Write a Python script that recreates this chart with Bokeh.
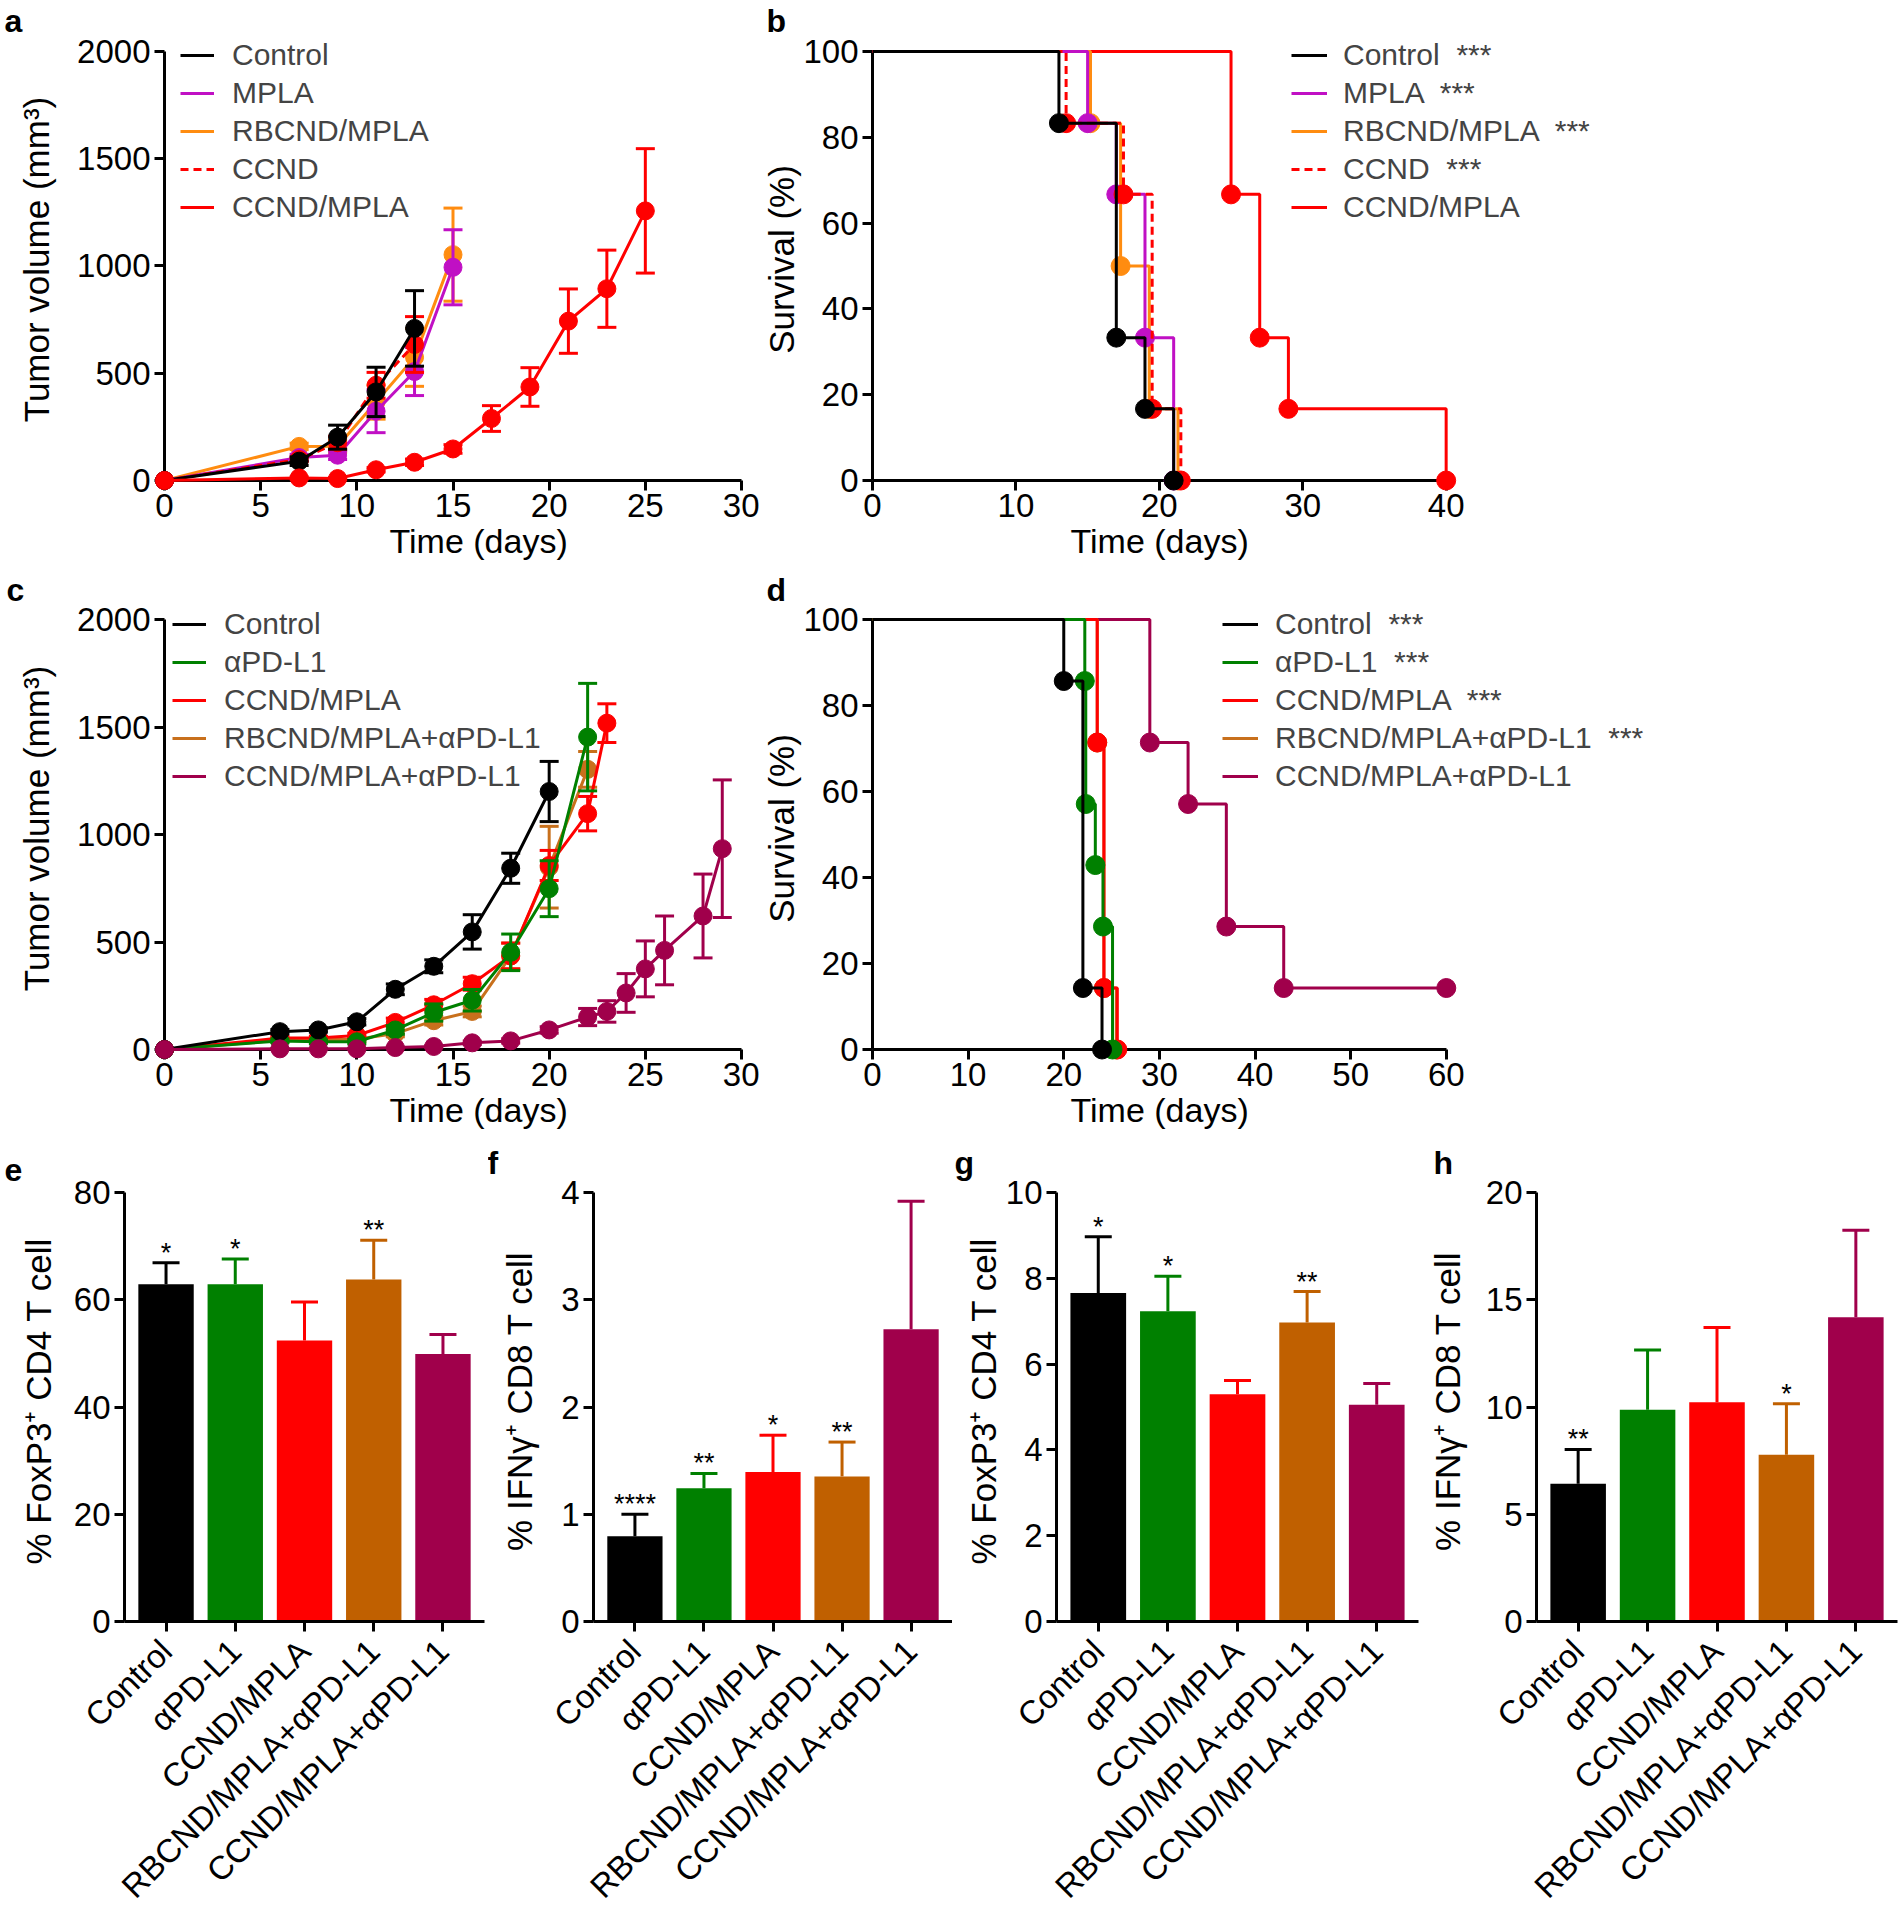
import math
from bokeh.plotting import figure
from bokeh.models import Range1d, ColumnDataSource, Legend, LegendItem, Title
from bokeh.layouts import row, column
from bokeh.embed import file_html
from bokeh.resources import INLINE
from bokeh.core.properties import value

FONT = "Liberation Sans"

# ---------------- data: panel a (tumor volume, mm3) ----------------
a_days_control = [0, 7, 9, 11, 13]
a_control = [0, 90, 202, 413, 709]
a_control_err = [0, 20, 56, 115, 176]
a_days_mpla = [0, 7, 9, 11, 13, 15]
a_mpla = [0, 107, 118, 323, 508, 994]
a_mpla_err = [0, 15, 20, 100, 112, 175]
a_days_rbcnd = [0, 7, 9, 11, 13, 15]
a_rbcnd = [0, 159, 160, 366, 574, 1053]
a_rbcnd_err = [0, 15, 30, 80, 135, 217]
a_days_ccnd = [0, 7, 9, 11, 13]
a_ccnd = [0, 98, 176, 444, 634]
a_ccnd_err = [0, 10, 30, 60, 130]
a_days_ccnd_mpla = [0, 7, 9, 11, 13, 15, 17, 19, 21, 23, 25]
a_ccnd_mpla = [0, 12, 9, 50, 85, 147, 289, 436, 743, 894, 1257]
a_ccnd_mpla_err = [0, 5, 5, 10, 15, 20, 60, 90, 150, 180, 290]

# ---------------- data: panel b (survival %) ----------------
b_control_t = [0, 13, 17, 19, 21]
b_control_s = [100, 83.3, 33.3, 16.7, 0]
b_mpla_t = [0, 15, 17, 19, 21]
b_mpla_s = [100, 83.3, 66.7, 33.3, 0]
b_rbcnd_t = [0, 15.2, 17.3, 19.3, 21.3]
b_rbcnd_s = [100, 83.3, 50, 16.7, 0]
b_ccnd_t = [0, 13.5, 17.5, 19.5, 21.5]
b_ccnd_s = [100, 83.3, 66.7, 16.7, 0]
b_ccnd_mpla_t = [0, 25, 27, 29, 40]
b_ccnd_mpla_s = [100, 66.7, 33.3, 16.7, 0]

# ---------------- data: panel c (tumor volume, mm3) ----------------
c_days_control = [0, 6, 8, 10, 12, 14, 16, 18, 20]
c_control = [0, 83, 91, 129, 280, 387, 547, 843, 1200]
c_control_err = [0, 10, 10, 15, 25, 30, 80, 70, 140]
c_days_apdl1 = [0, 6, 8, 10, 12, 14, 16, 18, 20, 22]
c_apdl1 = [0, 40, 36, 36, 91, 172, 229, 452, 748, 1453]
c_apdl1_err = [0, 8, 8, 10, 20, 40, 50, 85, 130, 250]
c_days_ccnd_mpla = [0, 6, 8, 10, 12, 14, 16, 18, 20, 22, 23]
c_ccnd_mpla = [0, 53, 53, 65, 126, 208, 306, 435, 856, 1097, 1518]
c_ccnd_mpla_err = [0, 8, 8, 10, 20, 25, 30, 60, 70, 80, 90]
c_days_rbcnd_apdl1 = [0, 6, 8, 10, 12, 14, 16, 18, 20, 22]
c_rbcnd_apdl1 = [0, 43, 45, 48, 74, 134, 177, 435, 848, 1303]
c_rbcnd_apdl1_err = [0, 8, 8, 10, 15, 20, 25, 60, 190, 83]
c_days_ccnd_apdl1 = [0, 6, 8, 10, 12, 14, 16, 18, 20, 22, 23, 24, 25, 26, 28, 29]
c_ccnd_apdl1 = [0, 3, 3, 3, 9, 14, 31, 40, 91, 151, 177, 263, 375, 461, 621, 934]
c_ccnd_apdl1_err = [0, 2, 2, 2, 3, 5, 8, 10, 15, 40, 50, 90, 130, 160, 195, 320]

# ---------------- data: panel d (survival %) ----------------
d_control_t = [0, 20, 22, 24]
d_control_s = [100, 85.7, 14.3, 0]
d_apdl1_t = [0, 22.2, 22.3, 23.3, 24.1, 25.1]
d_apdl1_s = [100, 85.7, 57.1, 42.9, 28.6, 0]
d_ccnd_mpla_t = [0, 23.5, 24.2, 25.6]
d_ccnd_mpla_s = [100, 71.4, 14.3, 0]
d_rbcnd_apdl1_t = [0, 23.5, 24.2, 25.5]
d_rbcnd_apdl1_s = [100, 71.4, 14.3, 0]
d_ccnd_apdl1_t = [0, 29, 33, 37, 43, 60]
d_ccnd_apdl1_s = [100, 71.4, 57.1, 28.6, 14.3, 14.3]

# ---------------- data: bar panels e-h ----------------
bar_groups = ["Control", "\u03b1PD-L1", "CCND/MPLA", "RBCND/MPLA+\u03b1PD-L1", "CCND/MPLA+\u03b1PD-L1"]
e_mean = [62.9, 62.9, 52.4, 63.8, 49.9]
e_err = [4.0, 4.7, 7.2, 7.3, 3.6]
e_sig = ["*", "*", "", "**", ""]
f_mean = [0.795, 1.243, 1.394, 1.353, 2.725]
f_err = [0.205, 0.137, 0.343, 0.32, 1.193]
f_sig = ["****", "**", "*", "**", ""]
g_mean = [7.66, 7.23, 5.30, 6.97, 5.05]
g_err = [1.31, 0.82, 0.32, 0.72, 0.50]
g_sig = ["*", "*", "", "**", ""]
h_mean = [6.42, 9.87, 10.22, 7.77, 14.19]
h_err = [1.60, 2.79, 3.49, 2.38, 4.05]
h_sig = ["**", "", "", "*", ""]

# ---------------- styles ----------------
BLACK = "#000000"
PURPLE = "#C010C4"
ORANGE = "#FF8C10"
RED = "#FF0000"
GREEN = "#008000"
BROWN_L = "#C8701C"
MAROON = "#A0004B"
BROWN_B = "#C06000"
bar_colors = [BLACK, GREEN, RED, BROWN_B, MAROON]
TOP_LEVEL = "annotation"   # data drawn above the axes


def make_fig(width, height, bl, br, bt, bb, xr, yr, let, let_off):
    p = figure(width=width, height=height, x_range=Range1d(*xr), y_range=Range1d(*yr),
               output_backend="svg", toolbar_location=None,
               min_border_left=bl, min_border_right=br, min_border_top=bt, min_border_bottom=bb)
    p.outline_line_color = None
    p.xgrid.visible = False
    p.ygrid.visible = False
    p.background_fill_color = "white"
    p.border_fill_color = "white"
    p.title.text = let
    p.title.align = "left"
    p.title.offset = let_off
    p.title.standoff = 0
    p.title.text_font = FONT
    p.title.text_font_size = "32px"
    p.title.text_font_style = "bold"
    p.title.text_color = "black"
    for ax in (p.xaxis[0], p.yaxis[0]):
        ax.axis_line_width = 3
        ax.axis_line_color = "black"
        ax.major_tick_line_width = 3
        ax.major_tick_line_color = "black"
        ax.major_tick_out = 10
        ax.major_tick_in = 0
        ax.minor_tick_line_color = None
        ax.major_label_text_font = FONT
        ax.major_label_text_font_size = "33px"
        ax.major_label_text_color = "black"
        ax.major_label_standoff = 4
        ax.axis_label_text_font = FONT
        ax.axis_label_text_font_size = "35px"
        ax.axis_label_text_font_style = "normal"
        ax.axis_label_text_color = "black"
    return p


def tumor_series(p, days, vals, errs, color, dash="solid"):
    ex = [d for d, e in zip(days, errs) if e > 0]
    lo = [v - e for v, e in zip(vals, errs) if e > 0]
    hi = [v + e for v, e in zip(vals, errs) if e > 0]
    src = ColumnDataSource(dict(x=ex, lo=lo, hi=hi))
    p.segment(x0="x", y0="lo", x1="x", y1="hi", source=src, line_width=3, line_color=color,
              level=TOP_LEVEL)
    p.scatter(x="x", y="hi", source=src, marker="dash", size=19, line_width=3, color=color,
              level=TOP_LEVEL)
    p.scatter(x="x", y="lo", source=src, marker="dash", size=19, line_width=3, color=color,
              level=TOP_LEVEL)
    r = p.line(days, vals, line_width=3, line_color=color, line_dash=dash, level=TOP_LEVEL)
    p.scatter(days, vals, size=18, color=color, level=TOP_LEVEL)
    return r


def surv_series(p, t, s, color, dash="solid"):
    r = p.step(t, s, mode="after", line_width=3, line_color=color, line_dash=dash,
               level=TOP_LEVEL)
    p.scatter(t[1:], s[1:], size=19, color=color, level=TOP_LEVEL)
    return r


def add_legend(p, items, loc, glyph_w, standoff):
    lg = Legend(items=[LegendItem(label=l, renderers=[r]) for l, r in items], location=loc,
                orientation="vertical", glyph_width=glyph_w, glyph_height=38, label_height=38,
                spacing=0, padding=0, margin=0, label_standoff=standoff,
                label_text_font=FONT, label_text_font_size="30px",
                border_line_color=None, background_fill_alpha=0)
    p.add_layout(lg)


def line_axes(p, xticks, yticks, xb, yb, ylabel, ystandoff, xtitle_off):
    p.xaxis.ticker = xticks
    p.yaxis.ticker = yticks
    p.xaxis.bounds = xb
    p.yaxis.bounds = yb
    p.yaxis.axis_label = ylabel
    p.yaxis.axis_label_standoff = ystandoff
    p.xaxis.major_label_standoff = 3
    p.add_layout(Title(text="Time (days)", align="left", offset=xtitle_off, standoff=0,
                       vertical_align="bottom", text_font=FONT, text_font_size="34px",
                       text_font_style="normal", text_color="black"), "below")


# ---------------- panel a ----------------
pa = make_fig(759, 569, 164, 18, 38, 89, (0, 30), (0, 2060.6), "a", -160)
line_axes(pa, [0, 5, 10, 15, 20, 25, 30], [0, 500, 1000, 1500, 2000], (0, 30), (0, 2000),
          "Tumor volume (mm\u00b3)", 18, 225)
r_a_rb = tumor_series(pa, a_days_rbcnd, a_rbcnd, a_rbcnd_err, ORANGE)
r_a_mp = tumor_series(pa, a_days_mpla, a_mpla, a_mpla_err, PURPLE)
r_a_cc = tumor_series(pa, a_days_ccnd, a_ccnd, a_ccnd_err, RED, "8 5")
r_a_co = tumor_series(pa, a_days_control, a_control, a_control_err, BLACK)
r_a_cm = tumor_series(pa, a_days_ccnd_mpla, a_ccnd_mpla, a_ccnd_mpla_err, RED)
add_legend(pa, [("Control", r_a_co), ("MPLA", r_a_mp), ("RBCND/MPLA", r_a_rb),
                ("CCND", r_a_cc), ("CCND/MPLA", r_a_cm)], (16, 254), 34, 18)

# ---------------- panel b ----------------
pb = make_fig(1142, 569, 107, 0, 38, 89, (0, 71.75), (0, 103.03), "b", -106)
line_axes(pb, [0, 10, 20, 30, 40], [0, 20, 40, 60, 80, 100], (0, 40), (0, 100),
          "Survival (%)", -1, 198)
r_b_cm = surv_series(pb, b_ccnd_mpla_t, b_ccnd_mpla_s, RED)
r_b_rb = surv_series(pb, b_rbcnd_t, b_rbcnd_s, ORANGE)
r_b_mp = surv_series(pb, b_mpla_t, b_mpla_s, PURPLE)
r_b_cc = surv_series(pb, b_ccnd_t, b_ccnd_s, RED, "8 5")
r_b_co = surv_series(pb, b_control_t, b_control_s, BLACK)
add_legend(pb, [("Control  ***", r_b_co), ("MPLA  ***", r_b_mp), ("RBCND/MPLA  ***", r_b_rb),
                ("CCND  ***", r_b_cc), ("CCND/MPLA", r_b_cm)], (419, 254), 36, 16)

# ---------------- panel c ----------------
pc = make_fig(759, 569, 164, 18, 38, 89, (0, 30), (0, 2055.9), "c", -158)
line_axes(pc, [0, 5, 10, 15, 20, 25, 30], [0, 500, 1000, 1500, 2000], (0, 30), (0, 2000),
          "Tumor volume (mm\u00b3)", 18, 225)
r_c_rb = tumor_series(pc, c_days_rbcnd_apdl1, c_rbcnd_apdl1, c_rbcnd_apdl1_err, BROWN_L)
r_c_cm = tumor_series(pc, c_days_ccnd_mpla, c_ccnd_mpla, c_ccnd_mpla_err, RED)
r_c_ap = tumor_series(pc, c_days_apdl1, c_apdl1, c_apdl1_err, GREEN)
r_c_co = tumor_series(pc, c_days_control, c_control, c_control_err, BLACK)
r_c_ca = tumor_series(pc, c_days_ccnd_apdl1, c_ccnd_apdl1, c_ccnd_apdl1_err, MAROON)
add_legend(pc, [("Control", r_c_co), ("\u03b1PD-L1", r_c_ap), ("CCND/MPLA", r_c_cm),
                ("RBCND/MPLA+\u03b1PD-L1", r_c_rb), ("CCND/MPLA+\u03b1PD-L1", r_c_ca)],
           (8, 254), 34, 18)

# ---------------- panel d ----------------
pd_ = make_fig(1142, 569, 107, 0, 38, 89, (0, 107.6), (0, 102.8), "d", -106)
line_axes(pd_, [0, 10, 20, 30, 40, 50, 60], [0, 20, 40, 60, 80, 100], (0, 60), (0, 100),
          "Survival (%)", -1, 198)
r_d_ca = surv_series(pd_, d_ccnd_apdl1_t, d_ccnd_apdl1_s, MAROON)
r_d_rb = surv_series(pd_, d_rbcnd_apdl1_t, d_rbcnd_apdl1_s, BROWN_L)
r_d_cm = surv_series(pd_, d_ccnd_mpla_t, d_ccnd_mpla_s, RED)
r_d_ap = surv_series(pd_, d_apdl1_t, d_apdl1_s, GREEN)
r_d_co = surv_series(pd_, d_control_t, d_control_s, BLACK)
add_legend(pd_, [("Control  ***", r_d_co), ("\u03b1PD-L1  ***", r_d_ap), ("CCND/MPLA  ***", r_d_cm),
                 ("RBCND/MPLA+\u03b1PD-L1  ***", r_d_rb), ("CCND/MPLA+\u03b1PD-L1", r_d_ca)],
           (350, 254), 36, 17)


# ---------------- bar panels ----------------
def bar_panel(width, bl, br, ymax, ytop, yticks, means, errs, sigs, ylabel, ystandoff, let, loff):
    p = make_fig(width, 782, bl, br, 42, 299, (-0.6, 4.6), (0, ytop), let, loff)
    xs = list(range(len(means)))
    upper = [m + e for m, e in zip(means, errs)]
    src = ColumnDataSource(dict(x=xs, top=means, up=upper, color=bar_colors, sig=sigs))
    p.segment(x0="x", y0="top", x1="x", y1="up", line_color="color", line_width=3, source=src)
    p.scatter(x="x", y="up", marker="dash", size=27, line_width=3, color="color", source=src)
    p.vbar(x="x", top="top", bottom=0, width=0.8, fill_color="color", line_color=None, source=src)
    p.text(x="x", y="up", text="sig", text_align="center", text_baseline="alphabetic",
           y_offset=-10, text_font=value(FONT), text_font_size=value("27px"),
           text_color="black", source=src)
    p.xaxis.ticker = xs
    p.xaxis.major_label_overrides = {i: g for i, g in enumerate(bar_groups)}
    p.xaxis.major_label_orientation = math.pi / 4
    p.xaxis.major_label_standoff = 14
    p.yaxis.ticker = yticks
    p.yaxis.bounds = (0, ymax)
    p.yaxis.axis_label = ylabel
    p.yaxis.axis_label_standoff = ystandoff
    return p


pe = bar_panel(488, 124, 4, 80, 82.24, [0, 20, 40, 60, 80], e_mean, e_err, e_sig,
               "% FoxP3\u207a CD4 T cell", 13, "e", -120)
pf = bar_panel(464, 105, 0, 4, 4.112, [0, 1, 2, 3, 4], f_mean, f_err, f_sig,
               "% IFN\u03b3\u207a CD8 T cell", 19, "f", -106)
pg = bar_panel(472, 104, 6, 10, 10.28, [0, 2, 4, 6, 8, 10], g_mean, g_err, g_sig,
               "% FoxP3\u207a CD4 T cell", 0, "g", -102)
ph = bar_panel(477, 112, 4, 20, 20.56, [0, 5, 10, 15, 20], h_mean, h_err, h_sig,
               "% IFN\u03b3\u207a CD8 T cell", 16, "h", -103)

layout = column(row(pa, pb), row(pc, pd_), row(pe, pf, pg, ph))

open("out.html", "w").write(file_html(layout, INLINE))
